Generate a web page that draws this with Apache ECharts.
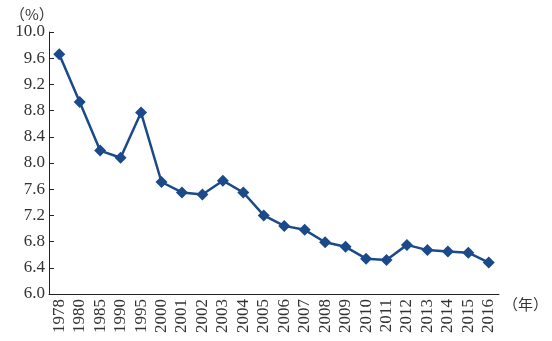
<!DOCTYPE html>
<html><head><meta charset="utf-8">
<script src="https://cdn.jsdelivr.net/npm/echarts@6/dist/echarts.min.js"></script>
<style>html,body{margin:0;padding:0;background:#fff}#c{width:552px;height:341px}</style>
</head><body><div id="c"></div>
<script>
const categories = ['1978','1980','1985','1990','1995','2000','2001','2002','2003','2004','2005','2006','2007','2008','2009','2010','2011','2012','2013','2014','2015','2016'];
const values = [9.66,8.93,8.19,8.08,8.77,7.71,7.55,7.52,7.73,7.55,7.20,7.04,6.98,6.79,6.72,6.54,6.52,6.75,6.67,6.65,6.63,6.48];
const yUnit = '（%）';
const xUnit = '（年）';

const chart = echarts.init(document.getElementById('c'), null, {renderer:'canvas'});
const font = 'Liberation Serif';
chart.setOption({
  animation:false,
  backgroundColor:'#fff',
  grid:{left:49, top:32, right:53, bottom:47},
  xAxis:{
    type:'category', data:categories, boundaryGap:true,
    axisLine:{lineStyle:{color:'#222', width:1}},
    axisTick:{inside:true, length:6, lineStyle:{color:'#222'}},
    axisLabel:{rotate:90, interval:0, fontFamily:font, fontSize:17, color:'#333', margin:5}
  },
  yAxis:{
    type:'value', min:6.0, max:10.0, interval:0.4,
    splitLine:{show:false},
    axisLine:{show:true, lineStyle:{color:'#222', width:1}},
    axisTick:{show:true, inside:true, length:5, lineStyle:{color:'#222'}},
    axisLabel:{fontFamily:font, fontSize:17, color:'#333', margin:4, formatter:v=>v.toFixed(1)}
  },
  graphic:[
    {type:'text', left:10, top:7, style:{text:yUnit, fontSize:15, fontFamily:'Noto Sans CJK SC', fill:'#333'}},
    {type:'text', left:503, top:297, style:{text:xUnit, fontSize:15, fontFamily:'Noto Sans CJK SC', fill:'#333'}}
  ],
  series:[{
    type:'line', data:values,
    symbol:'diamond', symbolSize:12,
    lineStyle:{color:'#1a4a8a', width:2.5},
    itemStyle:{color:'#1a4a8a'}
  }]
});
</script></body></html>
